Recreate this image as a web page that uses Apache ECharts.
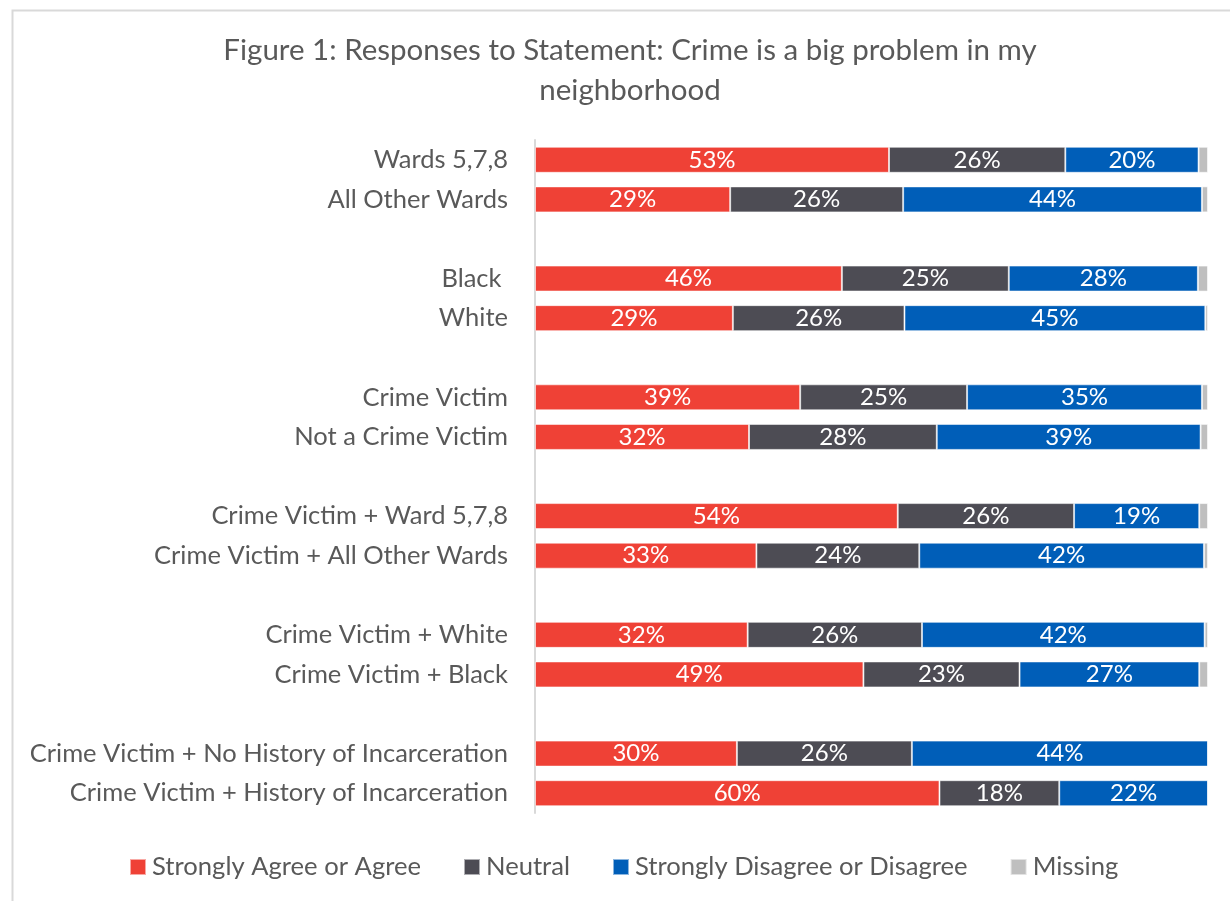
<!DOCTYPE html>
<html>
<head>
<meta charset="utf-8">
<title>Figure 1: Responses to Statement: Crime is a big problem in my neighborhood</title>
<script src="https://cdn.jsdelivr.net/npm/echarts@6/dist/echarts.min.js"></script>
<style>
  html, body { margin: 0; padding: 0; background: #ffffff; }
  #chart { width: 1230px; height: 901px; }
</style>
</head>
<body>
<div id="chart"></div>
<script>
// Row labels; empty strings are spacer rows between groups
const categories = [
  'Wards 5,7,8', 'All Other Wards', '',
  'Black ', 'White', '',
  'Crime Victim', 'Not a Crime Victim', '',
  'Crime Victim + Ward 5,7,8', 'Crime Victim + All Other Wards', '',
  'Crime Victim + White', 'Crime Victim + Black', '',
  'Crime Victim + No History of Incarceration', 'Crime Victim + History of Incarceration'
];

// Percent of respondents per response (null on spacer rows)
const agree    = [52.6, 29.0, null, 45.6, 29.4, null, 39.4, 31.8, null, 53.9, 32.9, null, 31.6, 48.8, null, 30.0, 60.1];
const neutral  = [26.2, 25.7, null, 24.8, 25.5, null, 24.8, 27.9, null, 26.2, 24.2, null, 25.9, 23.2, null, 26.0, 17.8];
const disagree = [19.8, 44.4, null, 28.1, 44.7, null, 34.9, 39.2, null, 18.6, 42.3, null, 42.0, 26.7, null, 44.0, 22.1];
const missing  = [1.4, 0.9, null, 1.5, 0.4, null, 0.9, 1.1, null, 1.3, 0.6, null, 0.5, 1.3, null, 0.0, 0.0];

const seriesNames = ['Strongly Agree or Agree', 'Neutral', 'Strongly Disagree or Disagree', 'Missing'];
const seriesColors = ['#EF4136', '#4D4C54', '#005EB8', '#BFBFBF'];

const FONT = 'Lato, "Noto Sans", sans-serif';
const TEXT = '#595959';

function pctLabel(p) {
  return p.value == null ? '' : Math.round(p.value) + '%';
}

function makeSeries(name, values, color, withLabel) {
  return {
    name: name,
    type: 'bar',
    stack: 'total',
    barWidth: 26,
    data: values,
    itemStyle: { color: color, borderColor: 'rgba(255,255,255,0.55)', borderWidth: 1 },
    label: {
      show: withLabel,
      position: 'inside',
      formatter: pctLabel,
      color: '#ffffff',
      fontFamily: FONT,
      fontSize: 24
    },
    emphasis: { disabled: true }
  };
}

const chart = echarts.init(document.getElementById('chart'), null, { renderer: 'canvas' });

chart.setOption({
  backgroundColor: '#ffffff',
  animation: false,
  title: {
    text: 'Figure 1: Responses to Statement: Crime is a big problem in my\nneighborhood',
    left: 625,
    textAlign: 'center',
    top: 25,
    textStyle: {
      fontFamily: FONT,
      fontWeight: 'normal',
      fontSize: 29.5,
      lineHeight: 40,
      color: TEXT
    }
  },
  legend: {
    bottom: 16,
    left: 124,
    itemWidth: 16,
    itemHeight: 16,
    itemGap: 42,
    icon: 'rect',
    textStyle: { fontFamily: FONT, fontSize: 25.6, color: TEXT, padding: [0, 0, 0, 1] },
    data: seriesNames
  },
  grid: { left: 535, right: 22, top: 140, height: 673, containLabel: false },
  xAxis: {
    type: 'value',
    min: 0,
    max: 100,
    show: false
  },
  yAxis: {
    type: 'category',
    inverse: true,
    data: categories,
    axisTick: { show: false },
    axisLine: { show: true, lineStyle: { color: '#D9D9D9', width: 2 } },
    axisLabel: { fontFamily: FONT, fontSize: 25.5, color: TEXT, margin: 27 },
    splitLine: { show: false }
  },
  graphic: [{
    type: 'rect',
    left: 10,
    top: 8,
    shape: { width: 1260, height: 960 },
    style: { fill: 'none', stroke: '#D9D9D9', lineWidth: 2 },
    silent: true,
    z: -1
  }],
  series: [
    makeSeries(seriesNames[0], agree, seriesColors[0], true),
    makeSeries(seriesNames[1], neutral, seriesColors[1], true),
    makeSeries(seriesNames[2], disagree, seriesColors[2], true),
    makeSeries(seriesNames[3], missing, seriesColors[3], false)
  ]
});
</script>
</body>
</html>
